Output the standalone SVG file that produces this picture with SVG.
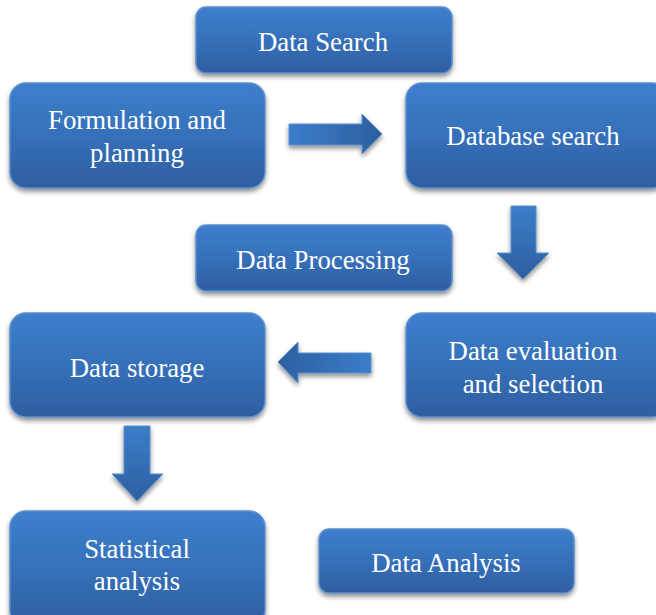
<svg xmlns="http://www.w3.org/2000/svg" width="656" height="615" viewBox="0 0 656 615">
<defs>
<linearGradient id="gBox" x1="0" y1="0" x2="0" y2="1">
<stop offset="0" stop-color="#3d7fcc"/>
<stop offset="0.5" stop-color="#3670ba"/>
<stop offset="1" stop-color="#2e5e9f"/>
</linearGradient>
<linearGradient id="gH" x1="0" y1="0" x2="1" y2="0">
<stop offset="0" stop-color="#3b7dca"/>
<stop offset="1" stop-color="#2d5f9f"/>
</linearGradient>
<linearGradient id="gHL" x1="1" y1="0" x2="0" y2="0">
<stop offset="0" stop-color="#3b7dca"/>
<stop offset="1" stop-color="#2d5f9f"/>
</linearGradient>
<linearGradient id="gV" x1="0" y1="0" x2="0" y2="1">
<stop offset="0" stop-color="#3b7dca"/>
<stop offset="1" stop-color="#2d5f9f"/>
</linearGradient>
<filter id="sh" x="-10%" y="-10%" width="120%" height="130%">
<feGaussianBlur in="SourceAlpha" stdDeviation="2.5"/>
<feOffset dx="0" dy="3" result="b"/>
<feComponentTransfer><feFuncA type="linear" slope="0.45"/></feComponentTransfer>
<feMerge><feMergeNode/><feMergeNode in="SourceGraphic"/></feMerge>
</filter>
</defs>
<style>
.box{fill:url(#gBox);stroke:#5a8fd0;stroke-width:1.5;filter:url(#sh)}
.t{font-size:26.8px;fill:#ffffff;text-anchor:middle}
</style>
<rect width="656" height="615" fill="#ffffff"/>
<g id="connectors">
<polygon points="289,124 362,124 362,114 382,134 362,154 362,145 289,145" fill="url(#gH)" stroke="#5a8fd0" stroke-width="1" filter="url(#sh)"/>
<polygon points="511,206 536,206 536,253 549,253 523,279 497,253 511,253" fill="url(#gV)" stroke="#5a8fd0" stroke-width="1" filter="url(#sh)"/>
<polygon points="371,353 298,353 298,342 278,362 298,383 298,373 371,373" fill="url(#gHL)" stroke="#5a8fd0" stroke-width="1" filter="url(#sh)"/>
<polygon points="124,426 150,426 150,474 163,474 137,501 112,474 124,474" fill="url(#gV)" stroke="#5a8fd0" stroke-width="1" filter="url(#sh)"/>
</g>
<g font-family="'Liberation Serif', 'Times New Roman', 'DejaVu Serif', serif">
<g id="data-search"><rect class="box" x="196" y="7" width="256" height="66" rx="10"/><text class="t" x="323" y="51">Data Search</text></g>
<g id="formulation"><rect class="box" x="10" y="83" width="255" height="105" rx="16"/><text class="t" x="137" y="129">Formulation and</text><text class="t" x="137" y="162">planning</text></g>
<g id="database-search"><rect class="box" x="406" y="83" width="262" height="105" rx="16"/><text class="t" x="533" y="145">Database search</text></g>
<g id="data-processing"><rect class="box" x="196" y="225" width="256" height="66" rx="10"/><text class="t" x="323" y="269">Data Processing</text></g>
<g id="data-storage"><rect class="box" x="10" y="313" width="255" height="104" rx="16"/><text class="t" x="137" y="377">Data storage</text></g>
<g id="data-evaluation"><rect class="box" x="406" y="313" width="262" height="104" rx="16"/><text class="t" x="533" y="360">Data evaluation</text><text class="t" x="533" y="393">and selection</text></g>
<g id="statistical-analysis"><rect class="box" x="10" y="511" width="255" height="115" rx="16"/><text class="t" x="137" y="558">Statistical</text><text class="t" x="137" y="590">analysis</text></g>
<g id="data-analysis"><rect class="box" x="319" y="529" width="255" height="64" rx="10"/><text class="t" x="446" y="572">Data Analysis</text></g>
</g>
</svg>
